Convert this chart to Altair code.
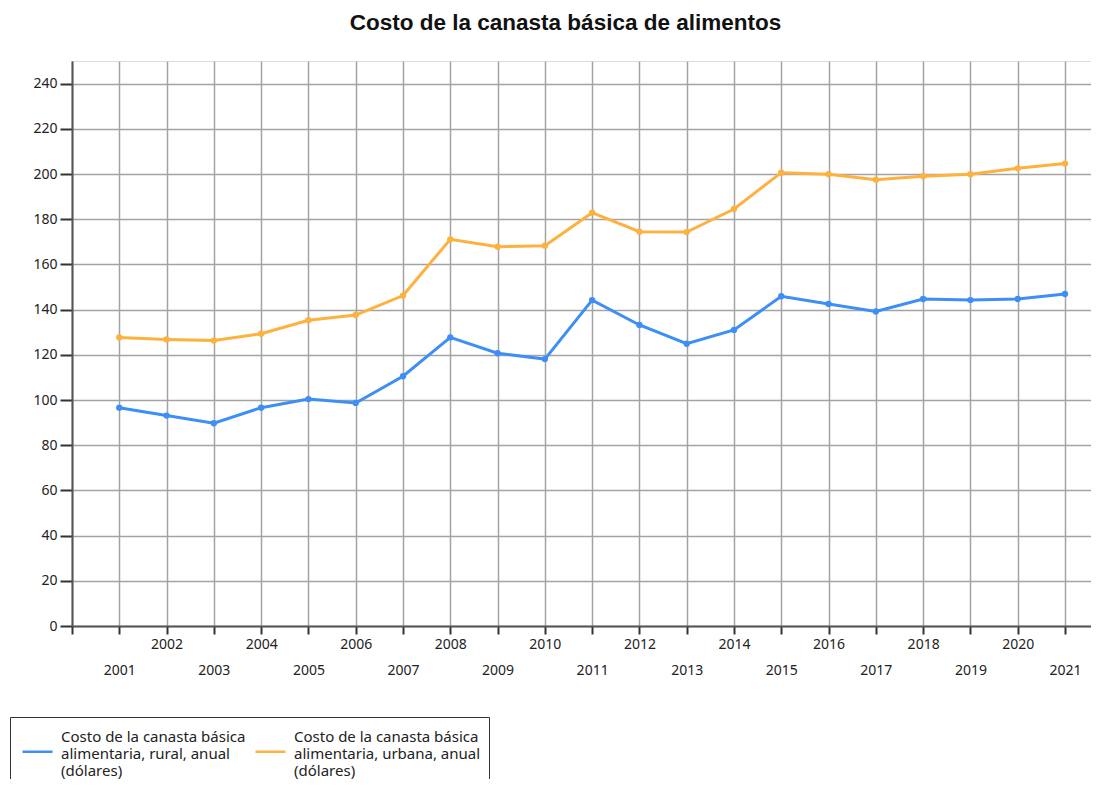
import altair as alt
import pandas as pd

years = list(range(2001, 2022))
rural = [96.6, 93.1, 89.7, 96.6, 100.4, 98.7, 110.5, 127.7, 120.7, 118.1, 144.2,
         133.2, 124.9, 131.0, 145.9, 142.5, 139.2, 144.7, 144.2, 144.7, 146.9]
urbana = [127.7, 126.8, 126.3, 129.3, 135.3, 137.6, 146.2, 171.1, 167.8, 168.3, 182.9,
          174.5, 174.3, 184.5, 200.6, 199.9, 197.5, 199.0, 199.9, 202.5, 204.6]
series_names = [
    "Costo de la canasta básica|alimentaria, rural, anual|(dólares)",
    "Costo de la canasta básica|alimentaria, urbana, anual|(dólares)",
]
colors = ["#3d8ef5", "#fdb13e"]
y_ticks = list(range(0, 241, 20))
x_ticks = list(range(2000, 2022))

rows = []
for y, r, u in zip(years, rural, urbana):
    rows.append({"year": y, "value": r, "series": series_names[0]})
    rows.append({"year": y, "value": u, "series": series_names[1]})
df = pd.DataFrame(rows)

FONT = "Noto Sans"

x_axis = alt.Axis(
    values=x_ticks, format="d", title=None,
    labelExpr="datum.value == 2000 ? '' : datum.label",
    labelPadding={"condition": {"test": "datum.value % 2 == 1", "value": 29}, "value": 3},
    labelOverlap=False, labelFlush=False,
    labelFont=FONT, labelFontSize=14, labelColor="#222",
    tickSize=8, tickWidth=2, tickColor="#333",
    domainColor="#555", domainWidth=2,
    grid=True, gridColor="#a3a3a3", gridWidth=1.5,
)
y_axis = alt.Axis(
    values=y_ticks, title=None,
    labelFont=FONT, labelFontSize=14, labelColor="#222", labelPadding=3,
    tickSize=12, tickWidth=2, tickColor="#333",
    domainColor="#555", domainWidth=2,
    grid=True, gridColor="#a3a3a3", gridWidth=1.5,
)

legend = alt.Legend(
    title=None, orient="none", legendX=-62, legendY=656,
    direction="horizontal", columns=2,
    symbolType="M-0.7,1.5H2.3", symbolSize=400, symbolStrokeWidth=2.5,
    labelExpr="split(datum.label, '|')",
    labelFont=FONT, labelFontSize=15, labelColor="#222", labelLimit=400,
    labelBaseline="middle", labelOffset=20, symbolOffset=0,
    columnPadding=4, padding=8,
    strokeColor="#333",
)

chart = alt.Chart(df).mark_line(
    strokeWidth=3, point=alt.OverlayMarkDef(filled=True, size=40)
).encode(
    x=alt.X("year:Q", scale=alt.Scale(domain=[2000, 2021.55], nice=False, zero=False), axis=x_axis),
    y=alt.Y("value:Q", scale=alt.Scale(domain=[0, 250], nice=False), axis=y_axis),
    color=alt.Color("series:N", scale=alt.Scale(domain=series_names, range=colors), legend=legend),
).properties(
    width=1019, height=565,
    title=alt.Title("Costo de la canasta básica de alimentos", font="Liberation Sans",
                    fontSize=22.5, fontWeight="bold", color="#111", anchor="middle", dx=-16, offset=27),
    autosize=alt.AutoSizeParams(type="none"),
    padding={"left": 64, "top": 53, "right": 0, "bottom": 153},
).configure_view(
    fill="#dfdfdf", stroke=None
).configure(background="white")

chart.save("out.html", embed_options={"renderer": "svg", "actions": False})
